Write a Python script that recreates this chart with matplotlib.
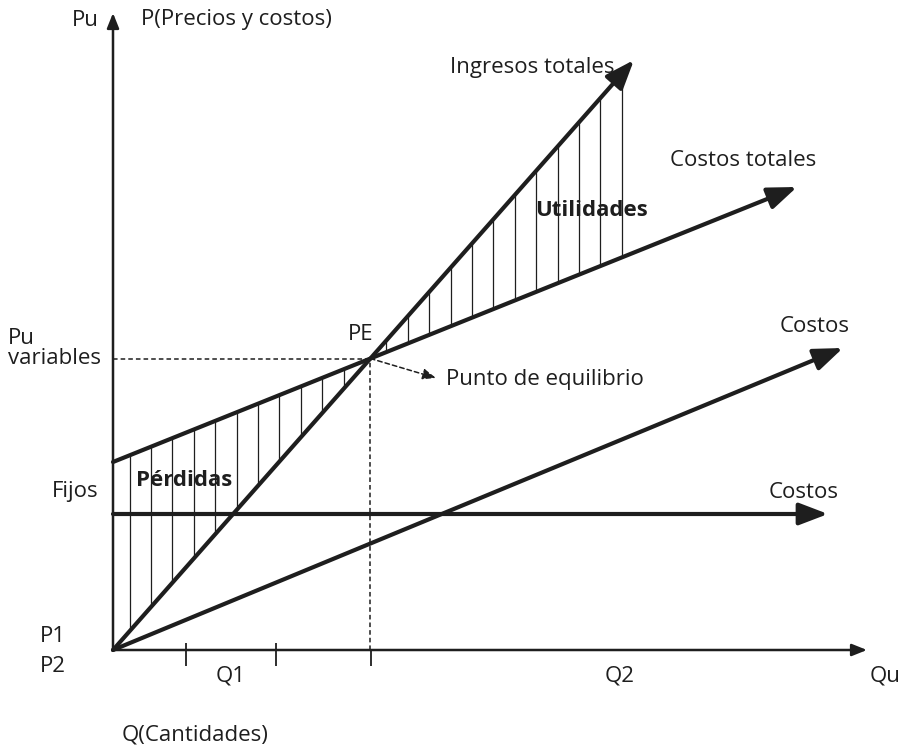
import numpy as np
import matplotlib.pyplot as plt

# schematic break-even chart (units: q = cantidades, p = precios y costos)
ink = '#1e1e1e'

# lines: value at q=0 and arrow tip
line_names = ['Ingresos totales', 'Costos totales', 'Costos variables', 'Costos fijos']
line_q0 = [0.0, 18.8, 0.0, 13.6]
line_tip_q = [52.1, 68.4, 73.0, 71.5]
line_tip_p = [59.0, 46.3, 30.2, 13.6]

# axes extent
q_axis_max = 75.4
p_axis_max = 63.7

# ticks on quantity axis
q_ticks = [7.3, 16.3]
q_pe_tick = 25.8

# hatch positions (vertical lines between revenue and total cost)
hatch_start = 1.65
hatch_step = 2.14
hatch_loss_k = list(range(0, 11))
hatch_gain_k = list(range(12, 24))

plt.rcParams['font.family'] = ['Open Sans', 'DejaVu Sans']

fig = plt.figure(figsize=(9.04, 7.45), dpi=100)
ax = fig.add_axes([0, 0, 1, 1])
ax.set_xlim(-11.3, 79.1)
ax.set_ylim(-9.5, 65.0)
ax.axis('off')

def line_val(i, q):
    slope = (line_tip_p[i] - line_q0[i]) / line_tip_q[i]
    return line_q0[i] + slope * q

# break-even point
rev_slope = (line_tip_p[0] - line_q0[0]) / line_tip_q[0]
tc_slope = (line_tip_p[1] - line_q0[1]) / line_tip_q[1]
q_pe = (line_q0[1] - line_q0[0]) / (rev_slope - tc_slope)
p_pe = line_val(0, q_pe)

# hatching
for k in hatch_loss_k + hatch_gain_k:
    q = hatch_start + hatch_step * k
    a, b = line_val(0, q), line_val(1, q)
    ax.vlines(q, min(a, b), max(a, b), color=ink, lw=0.9)

# main lines with arrowheads
big_head = dict(arrowstyle='-|>,head_length=1.1,head_width=0.42', lw=3.0, color=ink,
                shrinkA=0, shrinkB=0, mutation_scale=16)
for i in range(len(line_names)):
    ax.annotate('', xy=(line_tip_q[i], line_tip_p[i]), xytext=(0, line_q0[i]),
                arrowprops=big_head)

# axes
ax_head = dict(arrowstyle='-|>,head_length=1.0,head_width=0.4', lw=1.8, color=ink,
               shrinkA=0, shrinkB=0, mutation_scale=9)
ax.annotate('', xy=(q_axis_max, 0), xytext=(0, 0), arrowprops=ax_head)
ax.annotate('', xy=(0, p_axis_max), xytext=(0, 0), arrowprops=ax_head)

# ticks
for q in q_ticks:
    ax.vlines(q, -1.6, 0.7, color=ink, lw=1.3)
ax.vlines(q_pe_tick, -1.6, 0, color=ink, lw=1.3)

# dashed guides to PE
ax.plot([0, q_pe], [p_pe, p_pe], color=ink, lw=1.1, ls=(0, (3, 2)))
ax.plot([q_pe, q_pe], [0, p_pe], color=ink, lw=1.1, ls=(0, (3, 2)))
ax.annotate('', xy=(32.3, 27.2), xytext=(q_pe, p_pe),
            arrowprops=dict(arrowstyle='-|>,head_length=1.0,head_width=0.4', lw=1.1,
                            color=ink, ls=(0, (3, 2)), shrinkA=0, shrinkB=0,
                            mutation_scale=8))

# labels
fs = 16
txt = dict(fontsize=fs, color=ink, va='center')
ax.text(-4.1, 63.0, 'Pu', ha='left', **txt)
ax.text(2.8, 63.0, 'P(Precios y costos)', ha='left', **txt)
ax.text(33.7, 58.2, 'Ingresos totales', ha='left', **txt)
ax.text(55.7, 49.0, 'Costos totales', ha='left', **txt)
ax.text(42.2, 43.9, 'Utilidades', ha='left', fontweight='bold', **txt)
ax.text(66.7, 32.3, 'Costos', ha='left', **txt)
ax.text(23.5, 31.5, 'PE', ha='left', **txt)
ax.text(-10.5, 31.2, 'Pu', ha='left', **txt)
ax.text(-10.5, 29.2, 'variables', ha='left', **txt)
ax.text(33.3, 27.0, 'Punto de equilibrio', ha='left', **txt)
ax.text(-6.1, 15.9, 'Fijos', ha='left', **txt)
ax.text(2.3, 16.9, 'Pérdidas', ha='left', fontweight='bold', **txt)
ax.text(65.6, 15.8, 'Costos', ha='left', **txt)
ax.text(-7.3, 1.4, 'P1', ha='left', **txt)
ax.text(-7.3, -1.6, 'P2', ha='left', **txt)
ax.text(11.8, -2.6, 'Q1', ha='center', **txt)
ax.text(50.7, -2.6, 'Q2', ha='center', **txt)
ax.text(75.7, -2.6, 'Qu', ha='left', **txt)
ax.text(0.9, -8.5, 'Q(Cantidades)', ha='left', **txt)

fig.savefig('out.png', dpi=100)
